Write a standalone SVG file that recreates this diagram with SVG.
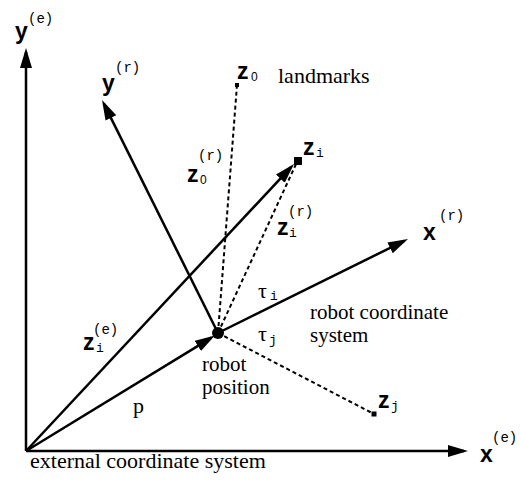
<svg xmlns="http://www.w3.org/2000/svg" width="520" height="486" viewBox="0 0 520 486">
<style>
.ax{stroke:#000;stroke-width:2.5;fill:none}
.dot{stroke:#000;stroke-width:2;stroke-dasharray:4 3;fill:none}
.v{font-family:"Liberation Sans",Arial,sans-serif;font-weight:bold;font-size:23px;fill:#000}
.sup{font-family:"Liberation Mono","Courier New",monospace;font-size:14px;fill:#000}
.sub{font-family:"Liberation Mono","Courier New",monospace;font-size:13px;fill:#000}
.s0{font-family:"Liberation Sans",Arial,sans-serif;font-size:12px;fill:#000}
.t{font-family:"Liberation Serif","Times New Roman",serif;font-size:22px;fill:#000}
.t2{font-family:"Liberation Serif","Times New Roman",serif;font-size:21px;fill:#000}
.tau{font-family:"Liberation Serif","Times New Roman",serif;font-size:22px;fill:#000}
</style>
<defs>
<marker id="ah" markerUnits="userSpaceOnUse" markerWidth="22" markerHeight="14" refX="16" refY="6" orient="auto">
<path d="M0,0 L20,6 L0,12 z" fill="#000"/>
</marker>
</defs>
<rect width="520" height="486" fill="#fff"/>
<g id="connectors">
<line class="ax" x1="26" y1="451" x2="26" y2="52" marker-end="url(#ah)"/>
<line class="ax" x1="26" y1="451" x2="464" y2="451" marker-end="url(#ah)"/>
<line class="ax" x1="218" y1="333" x2="103.8" y2="103.6" marker-end="url(#ah)"/>
<line class="ax" x1="218" y1="333" x2="404.4" y2="240.8" marker-end="url(#ah)"/>
<line class="ax" x1="26" y1="451" x2="291.3" y2="166.9" marker-end="url(#ah)"/>
<line class="ax" x1="26" y1="451" x2="211.5" y2="337.6" marker-end="url(#ah)"/>
<line class="dot" x1="218" y1="333" x2="237" y2="85"/>
<line class="dot" x1="218" y1="333" x2="297" y2="162"/>
<line class="dot" x1="218" y1="333" x2="374" y2="414"/>
</g>
<g id="robot">
<circle cx="218" cy="333" r="6" fill="#000"/>
<text class="t2" x="202" y="371">robot</text>
<text class="t2" x="202" y="394">position</text>
</g>
<g id="landmark-z0">
<rect x="235" y="83" width="4" height="4" fill="#000"/>
<text class="v" x="237" y="79">z</text><text class="s0" x="251" y="81">0</text>
<text class="t" x="278" y="83">landmarks</text>
</g>
<g id="landmark-zi">
<rect x="294" y="157" width="8" height="8" fill="#000"/>
<text class="v" x="303" y="155">z</text><text class="sub" x="316" y="157">i</text>
</g>
<g id="landmark-zj">
<rect x="371.5" y="411.5" width="5" height="5" fill="#000"/>
<text class="v" x="378" y="408">z</text><text class="sub" x="391" y="410">j</text>
</g>
<g id="labels">
<text class="v" x="15" y="39">y</text><text class="sup" x="28" y="23">(e)</text>
<text class="v" x="102" y="91">y</text><text class="sup" x="115" y="72">(r)</text>
<text class="v" x="423" y="240">x</text><text class="sup" x="439" y="220">(r)</text>
<text class="v" x="480" y="462">x</text><text class="sup" x="492" y="442">(e)</text>
<text class="v" x="187" y="182">z</text><text class="s0" x="200" y="184">0</text><text class="sup" x="198" y="160">(r)</text>
<text class="v" x="277" y="235">z</text><text class="sub" x="289" y="237">i</text><text class="sup" x="288" y="216">(r)</text>
<text class="v" x="83" y="350">z</text><text class="sub" x="96" y="352">i</text><text class="sup" x="93" y="334">(e)</text>
<text class="tau" x="258" y="298">τ</text><text class="sub" x="270" y="300">i</text>
<text class="tau" x="258" y="341">τ</text><text class="sub" x="269" y="344">j</text>
<text class="t" x="133" y="413">p</text>
<text class="t2" x="310" y="319">robot coordinate</text>
<text class="t2" x="310" y="342">system</text>
<text class="t" x="30" y="468">external coordinate system</text>
</g>
</svg>
